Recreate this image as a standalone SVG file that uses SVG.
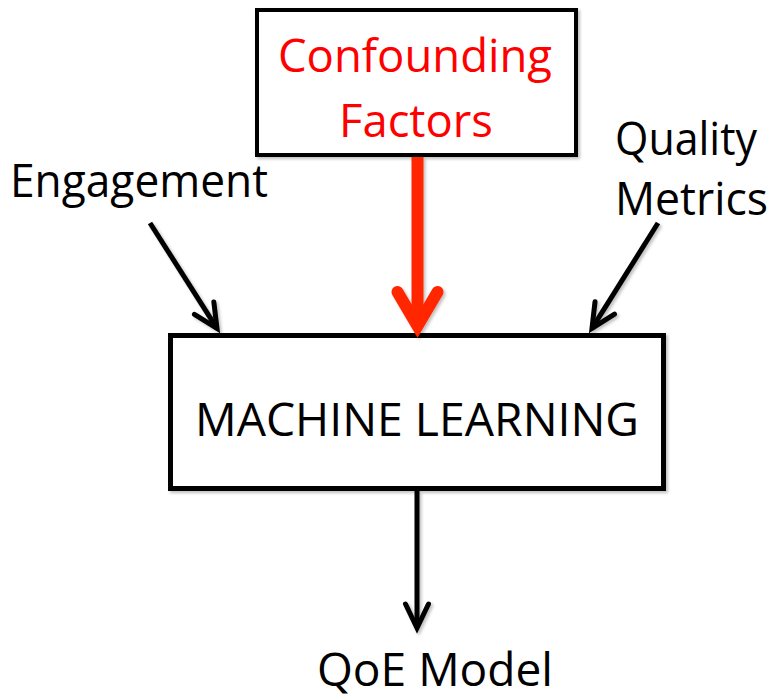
<svg xmlns="http://www.w3.org/2000/svg" width="774" height="700" viewBox="0 0 774 700">
<style>
  .box { fill: #ffffff; stroke: #000000; }
  .lbl { font-family: "Open Sans", "Noto Sans", "Liberation Sans", sans-serif; font-size: 46px; fill: #000000; }
  .red { fill: #ff0000; }
  .conn { stroke: #000000; stroke-width: 5; fill: none; }
</style>
<defs>
  <filter id="sh" x="-20%" y="-20%" width="140%" height="140%">
    <feDropShadow dx="2" dy="2" stdDeviation="1.5" flood-color="#000000" flood-opacity="0.25"/>
  </filter>
  <marker id="ah" markerUnits="userSpaceOnUse" markerWidth="60" markerHeight="60" refX="0" refY="0" orient="auto" overflow="visible">
    <path d="M-24,-11.5 L0,0 L-24,11.5" fill="none" stroke="#000000" stroke-width="5" stroke-linecap="round" stroke-linejoin="miter"/>
  </marker>
</defs>
<rect width="774" height="700" fill="#ffffff"/>

<g id="confounding">
  <rect class="box" x="257" y="10" width="319" height="145" stroke-width="4" filter="url(#sh)"/>
  <text class="lbl red" x="278" y="72" textLength="274" lengthAdjust="spacingAndGlyphs">Confounding</text>
  <text class="lbl red" x="339" y="137" textLength="154" lengthAdjust="spacingAndGlyphs">Factors</text>
</g>

<g id="engagement">
  <text class="lbl" x="10" y="197" textLength="258" lengthAdjust="spacingAndGlyphs">Engagement</text>
</g>

<g id="quality">
  <text class="lbl" x="615" y="155" textLength="142" lengthAdjust="spacingAndGlyphs">Quality</text>
  <text class="lbl" x="615" y="215" textLength="153" lengthAdjust="spacingAndGlyphs">Metrics</text>
</g>

<g id="ml">
  <rect class="box" x="170.5" y="335.5" width="493" height="153" stroke-width="5" filter="url(#sh)"/>
  <text class="lbl" x="195" y="436" textLength="444" lengthAdjust="spacingAndGlyphs">MACHINE LEARNING</text>
</g>

<g id="qoe">
  <text class="lbl" x="317" y="686" textLength="236" lengthAdjust="spacingAndGlyphs">QoE Model</text>
</g>

<g id="connectors" filter="url(#sh)">
  <line class="conn" x1="150" y1="223" x2="217" y2="328.4" marker-end="url(#ah)"/>
  <line class="conn" x1="658" y1="223" x2="592" y2="328.3" marker-end="url(#ah)"/>
  <line class="conn" x1="417" y1="491" x2="417" y2="628" marker-end="url(#ah)"/>
  <g stroke="#ff2600" stroke-width="12" fill="none">
    <line x1="417.5" y1="157" x2="417.5" y2="322"/>
    <path d="M397.5,292 L417.5,326 L437.5,292" stroke-linecap="round" stroke-linejoin="miter"/>
  </g>
</g>
</svg>
